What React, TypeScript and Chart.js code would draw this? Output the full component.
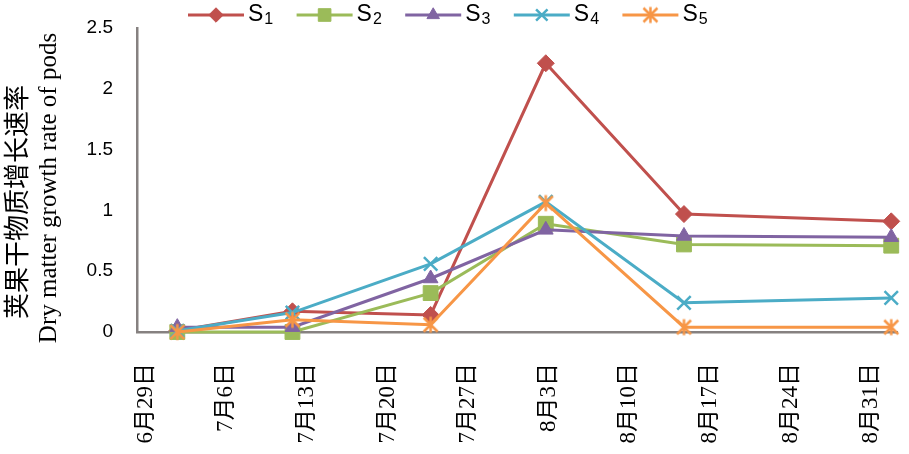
import React, { useEffect, useRef } from 'react';
import { Chart, registerables } from 'chart.js';
import { drawPoint } from 'chart.js/helpers';

Chart.register(...registerables);

// ---- data ----
const seriesNames = ['S', 'S', 'S', 'S', 'S'];
const seriesSubs = ['1', '2', '3', '4', '5'];
const sampleDays = [3, 13, 25, 35, 47, 65]; // days after 6月29日
const tickDays = [0, 7, 14, 21, 28, 35, 42, 49, 56, 63];
const tickLabels = ['6月29日', '7月6日', '7月13日', '7月20日', '7月27日', '8月3日', '8月10日', '8月17日', '8月24日', '8月31日'];
const s1 = [0.01, 0.17, 0.14, 2.21, 0.97, 0.91];
const s2 = [0.0, 0.0, 0.32, 0.89, 0.72, 0.71];
const s3 = [0.04, 0.04, 0.44, 0.84, 0.79, 0.78];
const s4 = [0.01, 0.16, 0.56, 1.07, 0.24, 0.28];
const s5 = [0.0, 0.1, 0.06, 1.06, 0.04, 0.04];
const yTitleZh = '荚果干物质增长速率';
const yTitleEn = 'Dry matter growth rate of pods';

const colors = ['#C0504D', '#9BBB59', '#8064A2', '#4BACC6', '#F79646'];
const axisColor = '#868180';

function makeAsterisk(color: string, size: number, lw: number) {
  const c = document.createElement('canvas');
  const d = Math.ceil(size + lw * 2);
  c.width = d;
  c.height = d;
  const g = c.getContext('2d')!;
  g.strokeStyle = color;
  g.lineWidth = lw;
  const m = d / 2;
  const h = size / 2;
  g.beginPath();
  g.moveTo(m - h, m - h);
  g.lineTo(m + h, m + h);
  g.moveTo(m + h, m - h);
  g.lineTo(m - h, m + h);
  g.moveTo(m, m - h * 1.15);
  g.lineTo(m, m + h * 1.15);
  g.stroke();
  return c;
}

export default function App() {
  const ref = useRef<HTMLCanvasElement | null>(null);

  useEffect(() => {
    document.body.style.margin = '0';
    const canvas = ref.current!;
    const asterisk = makeAsterisk(colors[4], 14, 2.5);
    const styles: any[] = [
      { pointStyle: 'rectRot', pointRadius: 8.5, pointBorderWidth: 1 },
      { pointStyle: 'rect', pointRadius: 10.5, pointBorderWidth: 1 },
      { pointStyle: 'triangle', pointRadius: 8.5, pointBorderWidth: 1 },
      { pointStyle: 'crossRot', pointRadius: 9.5, pointBorderWidth: 2.5 },
      { pointStyle: asterisk, pointRadius: 8, pointBorderWidth: 2.5 },
    ];
    const all = [s1, s2, s3, s4, s5];

    const datasets = all.map((vals, i) => ({
      label: seriesNames[i] + seriesSubs[i],
      data: vals.map((v, j) => ({ x: sampleDays[j], y: v })),
      borderColor: colors[i],
      backgroundColor: colors[i],
      pointBackgroundColor: colors[i],
      pointBorderColor: colors[i],
      borderWidth: 3,
      tension: 0,
      clip: false as any,
      order: 4 - i,
      ...styles[i],
    }));

    const legendPlugin = {
      id: 'customLegend',
      afterDraw(chart: any) {
        const ctx = chart.ctx as CanvasRenderingContext2D;
        ctx.save();
        const y = 15;
        for (let i = 0; i < 5; i++) {
          const x0 = 188 + i * 108.6;
          ctx.strokeStyle = colors[i];
          ctx.fillStyle = colors[i];
          ctx.lineWidth = 3;
          ctx.beginPath();
          ctx.moveTo(x0, y);
          ctx.lineTo(x0 + 56, y);
          ctx.stroke();
          const st = styles[i];
          ctx.lineWidth = st.pointBorderWidth;
          drawPoint(ctx, { pointStyle: st.pointStyle, radius: st.pointRadius * 0.85, borderWidth: st.pointBorderWidth, rotation: 0 } as any, x0 + 28, y);
          ctx.fillStyle = '#000';
          ctx.textAlign = 'left';
          ctx.textBaseline = 'middle';
          ctx.font = '23px "Liberation Sans", sans-serif';
          ctx.fillText(seriesNames[i], x0 + 60, y);
          const w = ctx.measureText(seriesNames[i]).width;
          ctx.font = '16px "Liberation Sans", sans-serif';
          ctx.fillText(seriesSubs[i], x0 + 61 + w, y + 5);
        }
        ctx.restore();
      },
    };

    const yTitlePlugin = {
      id: 'yTitle',
      afterDraw(chart: any) {
        const ctx = chart.ctx as CanvasRenderingContext2D;
        ctx.save();
        ctx.fillStyle = '#000';
        ctx.textAlign = 'center';
        ctx.textBaseline = 'middle';
        ctx.translate(16, 202);
        ctx.rotate(-Math.PI / 2);
        ctx.font = '26px "Noto Sans CJK SC", sans-serif';
        ctx.fillText(yTitleZh, 0, 0);
        ctx.restore();
        ctx.save();
        ctx.fillStyle = '#000';
        ctx.textAlign = 'center';
        ctx.textBaseline = 'middle';
        ctx.translate(49, 188);
        ctx.rotate(-Math.PI / 2);
        ctx.font = '25px "Liberation Serif", serif';
        ctx.fillText(yTitleEn, 0, 0);
        ctx.restore();
      },
    };

    const chart = new Chart(canvas, {
      type: 'line',
      data: { datasets },
      options: {
        animation: false,
        responsive: false,
        maintainAspectRatio: false,
        layout: { padding: { top: 28, right: 10, left: 0, bottom: 0 } },
        plugins: { legend: { display: false }, tooltip: { enabled: false } },
        scales: {
          x: {
            type: 'linear',
            min: -0.5,
            max: 65.5,
            grid: { display: false, drawTicks: false },
            border: { display: true, color: axisColor, width: 2.5 },
            afterBuildTicks: (axis: any) => {
              axis.ticks = tickDays.map((v) => ({ value: v }));
            },
            afterFit: (s: any) => {
              s.height = 122;
              s.paddingLeft = 0;
              s.paddingRight = 0;
            },
            ticks: {
              autoSkip: false,
              minRotation: 90,
              maxRotation: 90,
              padding: 31,
              labelOffset: 3,
              color: '#000',
              font: { family: '"Liberation Serif", "Noto Sans CJK SC", serif', size: 23 },
              callback: (v: any) => tickLabels[tickDays.indexOf(Number(v))] ?? '',
            },
          },
          y: {
            min: 0,
            max: 2.5,
            grid: { display: false, drawTicks: false },
            border: { display: true, color: axisColor, width: 2.5 },
            afterFit: (s: any) => {
              s.width = 137;
              s.paddingTop = 0;
              s.paddingBottom = 0;
            },
            ticks: {
              stepSize: 0.5,
              padding: 24,
              color: '#000',
              font: { family: '"Liberation Sans", sans-serif', size: 19 },
              callback: (v: any) => String(v),
            },
          },
        },
      } as any,
      plugins: [legendPlugin, yTitlePlugin],
    });
    return () => chart.destroy();
  }, []);

  return (
    <div style={{ width: 909, height: 454, background: '#fff' }}>
      <canvas ref={ref} width={909} height={454} style={{ display: 'block', width: 909, height: 454 }} />
    </div>
  );
}
